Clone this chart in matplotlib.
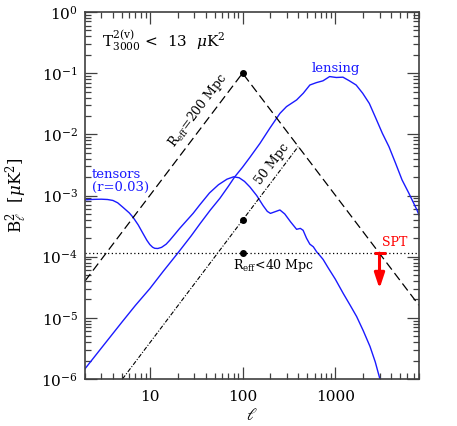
import numpy as np
import matplotlib
matplotlib.use('Agg')
import matplotlib.pyplot as plt
from matplotlib.patches import FancyArrowPatch
from matplotlib.ticker import LogLocator, NullFormatter, LogFormatterSciNotation

plt.rcParams['font.family'] = ['DejaVu Serif']
plt.rcParams['mathtext.fontset'] = 'dejavuserif'

# tensor B-modes (r=0.03)
ell_tensor = [2, 2.5, 3, 3.5, 4, 4.5, 5.2, 6, 6.6, 7.5, 8.5, 9.3, 10, 10.7, 11.3,
              12.2, 13.4, 15, 16.4, 18.5, 21, 25, 29.3, 34.5, 44, 55, 68, 80, 92,
              105, 120, 142, 167, 185, 200, 222, 253, 285, 330, 383, 420, 450, 490,
              532, 580, 630, 680, 740, 837, 1000, 1220, 1450, 1700, 2000, 2370,
              2700, 3030, 3300]
bb_tensor = [8.5e-4, 8.65e-4, 8.7e-4, 8.6e-4, 8.3e-4, 7.6e-4, 6.3e-4, 5.2e-4, 4.4e-4,
             3.3e-4, 2.35e-4, 1.85e-4, 1.58e-4, 1.43e-4, 1.37e-4, 1.36e-4, 1.42e-4,
             1.6e-4, 1.85e-4, 2.3e-4, 2.9e-4, 3.9e-4, 5.1e-4, 7.0e-4, 1.1e-3, 1.5e-3,
             1.85e-3, 2.02e-3, 1.95e-3, 1.7e-3, 1.38e-3, 1.0e-3, 6.8e-4, 5.5e-4,
             5.1e-4, 5.4e-4, 5.8e-4, 5.0e-4, 3.7e-4, 2.8e-4, 2.9e-4, 2.7e-4, 2.0e-4,
             1.6e-4, 1.45e-4, 1.2e-4, 1.05e-4, 9.0e-5, 6.6e-5, 4.3e-5, 2.5e-5,
             1.6e-5, 1.05e-5, 6.2e-6, 3.4e-6, 1.9e-6, 1.0e-6, 6e-7]

# lensing B-modes
ell_lens = [2, 3, 5, 7, 10, 14, 20, 28, 35, 45, 57, 70, 82, 100, 120, 154, 197, 253,
            298, 383, 452, 532, 625, 737, 870, 1025, 1210, 1420, 1680, 1975, 2330,
            2740, 3220, 3790, 4460, 5250, 6200, 7600, 8000]
bb_lens = [1.47e-6, 3.2e-6, 8.5e-6, 1.6e-5, 3.0e-5, 5.8e-5, 1.14e-4, 2.2e-4, 3.5e-4,
           5.8e-4, 9.0e-4, 1.4e-3, 2.0e-3, 2.9e-3, 4.2e-3, 7.1e-3, 1.26e-2, 2.2e-2,
           2.84e-2, 3.65e-2, 4.7e-2, 6.4e-2, 7.0e-2, 7.5e-2, 8.8e-2, 8.5e-2, 8.6e-2,
           7.5e-2, 6.4e-2, 4.7e-2, 3.2e-2, 1.83e-2, 1.04e-2, 6.3e-3, 3.4e-3, 1.8e-3,
           1.1e-3, 5.8e-4, 4.8e-4]

# patchy reionization, R_eff = 200 Mpc and 50 Mpc
ell_200 = [2, 100, 8000]
bb_200 = [4.0e-5, 0.1, 1.6e-5]
ell_50 = [5.07, 398]
bb_50 = [1.0e-6, 6.3e-3]

# SPT limit
ell_limit = [2, 8000]
bb_limit = [1.14e-4, 1.14e-4]
ell_spt = 3000
bb_spt_top = 1.14e-4
bb_spt_arrow = 3.0e-5

# amplitudes at l=100
ell_dots = [100, 100, 100]
bb_dots = [0.1, 4.0e-4, 1.14e-4]

xticks = [10, 100, 1000]
xticklabels = ['10', '100', '1000']
yticks = [1e-6, 1e-5, 1e-4, 1e-3, 1e-2, 1e-1, 1e0]

fig = plt.figure(figsize=(4.57, 4.26), dpi=100)
ax = fig.add_axes([85/457, 47/426, 334/457, 367/426])
ax.set_xscale('log')
ax.set_yscale('log')

blue = '#1a1aff'
ax.plot(ell_tensor, bb_tensor, color=blue, lw=1.0)
ax.plot(ell_lens, bb_lens, color=blue, lw=1.0)

l200, = ax.plot(ell_200, bb_200, color='black', lw=0.9)
l200.set_dashes((7, 3.5))
l50, = ax.plot(ell_50, bb_50, color='black', lw=0.8)
l50.set_dashes((4, 1.5, 1, 1.5))
llim, = ax.plot(ell_limit, bb_limit, color='black', lw=0.9)
llim.set_dashes((1, 2))
ax.plot(ell_dots, bb_dots, 'o', color='black', markersize=4)

# SPT upper limit arrow
ax.plot([2620, 3500], [bb_spt_top, bb_spt_top], color='red', lw=2.2,
        solid_capstyle='butt')
ax.add_patch(FancyArrowPatch((ell_spt, bb_spt_top), (ell_spt, bb_spt_arrow),
                             arrowstyle='-|>,head_length=0.9,head_width=0.3',
                             mutation_scale=10, color='red', lw=2.2,
                             shrinkA=0, shrinkB=0))

ax.text(0.05, 0.922, r'T$^{2(\mathrm{v})}_{3000}$ <  13  $\mu$K$^2$',
        transform=ax.transAxes, fontsize=11, ha='left', va='center')
ax.text(0.338, 0.733, r'R$_{\rm eff}$=200 Mpc', transform=ax.transAxes,
        fontsize=9, rotation=53, ha='center', va='center', rotation_mode='anchor')
ax.text(0.561, 0.586, '50 Mpc', transform=ax.transAxes,
        fontsize=9, rotation=53, ha='center', va='center', rotation_mode='anchor')
ax.text(0.443, 0.309, r'R$_{\rm eff}$<40 Mpc', transform=ax.transAxes,
        fontsize=9, ha='left', va='center')
ax.text(0.021, 0.540, 'tensors\n(r=0.03)', transform=ax.transAxes,
        fontsize=9.5, ha='left', va='center', color=blue, linespacing=1.0)
ax.text(0.751, 0.847, 'lensing', transform=ax.transAxes,
        fontsize=9.5, ha='center', va='center', color=blue)
ax.text(0.889, 0.371, 'SPT', transform=ax.transAxes,
        fontsize=9, ha='left', va='center', color='red')

ax.set_xticks(xticks)
ax.set_xticklabels(xticklabels)
ax.xaxis.set_minor_locator(LogLocator(base=10, subs=np.arange(2, 10)))
ax.xaxis.set_minor_formatter(NullFormatter())
ax.set_yticks(yticks)
ax.yaxis.set_major_formatter(LogFormatterSciNotation())
ax.yaxis.set_minor_locator(LogLocator(base=10, subs=np.arange(2, 10), numticks=20))
ax.yaxis.set_minor_formatter(NullFormatter())
ax.set_xlim(2, 8000)
ax.set_ylim(1e-6, 1)

frame = '#404040'
for s in ax.spines.values():
    s.set_color(frame)
    s.set_linewidth(1.2)
ax.tick_params(which='both', direction='in', top=True, right=True, color=frame,
               width=0.9, labelsize=11)
ax.tick_params(which='major', length=8.5)
ax.tick_params(which='minor', length=4.3)
ax.tick_params(axis='x', pad=8)
ax.tick_params(axis='y', pad=5)

ax.set_xlabel(r'$\ell$', fontsize=12)
ax.xaxis.set_label_coords(0.5, -0.075)
ax.set_ylabel(r'B$_\ell^2$  [$\mu$K$^2$]', fontsize=12)
ax.yaxis.set_label_coords(-0.165, 0.5)

fig.savefig('out.png', dpi=100)
